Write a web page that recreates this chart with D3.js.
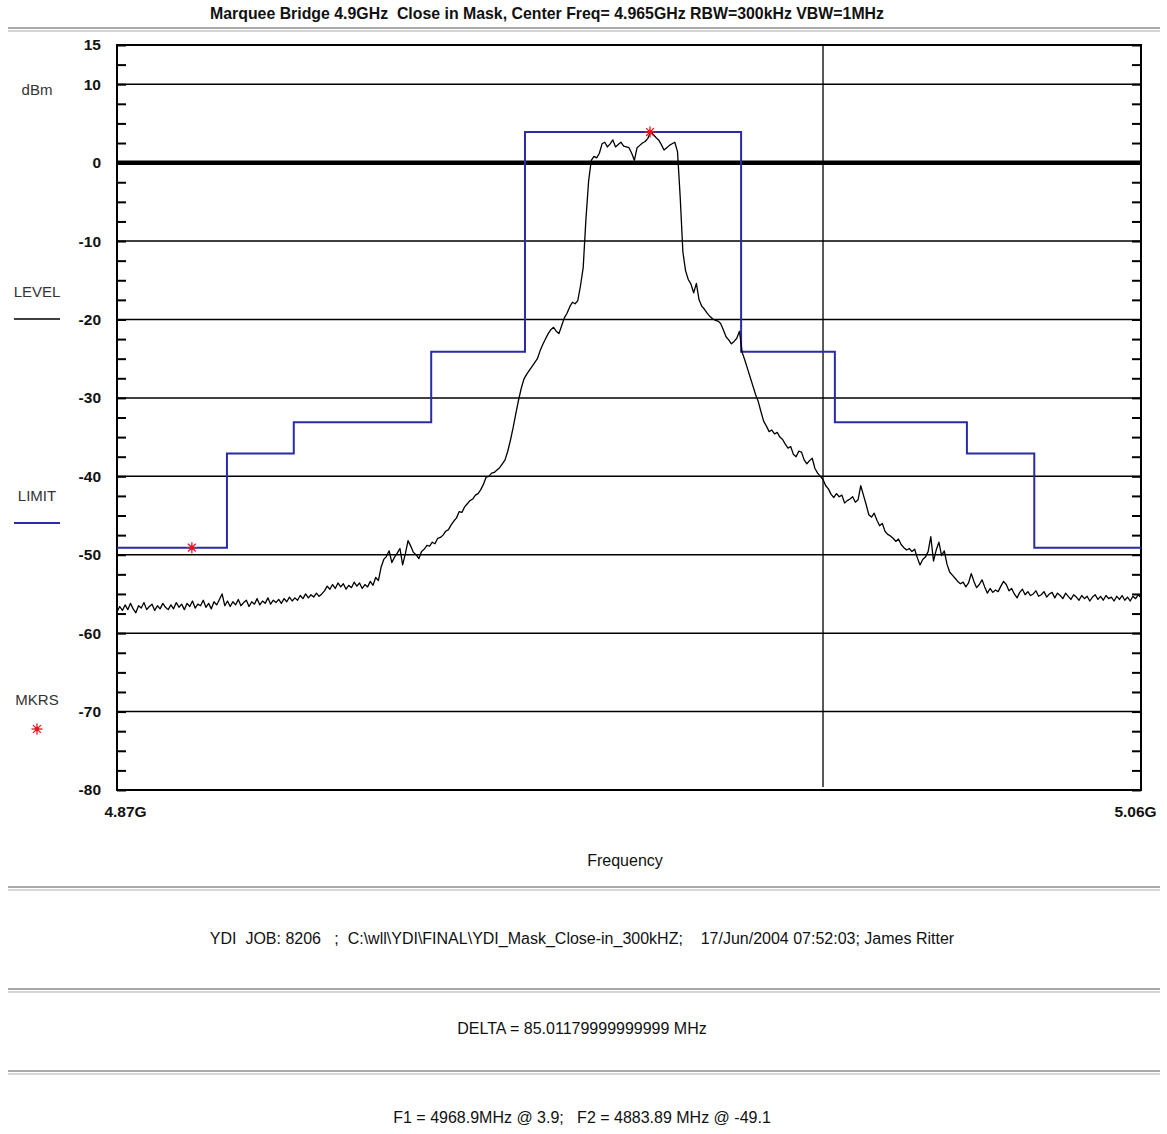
<!DOCTYPE html>
<html>
<head>
<meta charset="utf-8">
<script src="https://cdn.jsdelivr.net/npm/d3@7"></script>
<style>
  body { margin: 0; background: #fff; }
  svg text { font-family: "Liberation Sans", Arial, sans-serif; fill: #111; white-space: pre; }
  .bold { font-weight: bold; }
</style>
</head>
<body>
<div id="chart"></div>
<script>
// chart texts
const title = "Marquee Bridge 4.9GHz  Close in Mask, Center Freq= 4.965GHz RBW=300kHz VBW=1MHz";
const footerLines = [
  "YDI  JOB: 8206   ;  C:\\wll\\YDI\\FINAL\\YDI_Mask_Close-in_300kHZ;    17/Jun/2004 07:52:03; James Ritter",
  "DELTA = 85.01179999999999 MHz",
  "F1 = 4968.9MHz @ 3.9;   F2 = 4883.89 MHz @ -49.1"
];

// axes (MHz / dBm)
const freqRange = [4870, 5060];
const freqTickLabels = ["4.87G", "5.06G"];
const levelRange = [-80, 15];
const levelLabels = [15, 10, 0, -10, -20, -30, -40, -50, -60, -70, -80];
const gridLevels = [10, 0, -10, -20, -30, -40, -50, -60, -70];
const cursorFreq = 5001;

// limit mask: step edges (MHz) and the level of each step (dBm)
const maskEdges = [4870, 4890.4, 4902.8, 4928.3, 4945.7, 4985.8, 5003.2, 5027.7, 5040.2, 5060];
const maskLevels = [-49.1, -37.1, -33.1, -24.1, 3.9, -24.1, -33.1, -37.1, -49.1];

// measured trace, one value every 0.5 MHz starting at 4870 MHz
const traceStart = 4870, traceStep = 0.5;
const traceLevels = [
  -57.3,-56.6,-57.1,-56.4,-57.0,-56.2,-56.9,-57.4,-56.5,-56.8,-56.1,-57.0,-56.6,-56.3,-57.1,-56.5,-56.9,-56.2,-56.7,-57.0,
  -56.4,-56.9,-56.1,-56.7,-56.3,-57.0,-56.2,-56.6,-55.9,-56.8,-56.3,-56.5,-55.8,-56.7,-56.2,-56.9,-56.0,-56.4,-55.7,-55.0,
  -56.5,-55.9,-56.6,-56.0,-56.4,-55.7,-56.5,-56.1,-55.8,-56.6,-56.0,-56.3,-55.6,-56.4,-55.9,-56.2,-55.5,-56.3,-55.8,-56.1,
  -55.7,-56.2,-55.6,-56.0,-55.4,-55.9,-55.5,-55.8,-55.2,-55.6,-55.0,-55.5,-55.1,-55.4,-54.9,-55.3,-55.0,-54.6,-54.0,-54.4,
  -53.8,-54.3,-53.6,-54.1,-53.7,-54.4,-53.9,-54.2,-53.5,-54.0,-53.6,-54.3,-53.8,-54.1,-53.4,-53.9,-52.9,-53.3,-51.6,-50.6,
  -50.2,-49.5,-51.0,-50.3,-49.8,-49.2,-51.3,-49.9,-48.2,-48.9,-49.7,-50.0,-50.5,-49.6,-49.3,-48.8,-48.9,-48.4,-48.6,-47.9,
  -47.8,-47.5,-47.0,-46.8,-46.2,-45.7,-45.3,-44.5,-44.6,-43.9,-43.5,-43.1,-42.9,-42.4,-42.2,-41.7,-41.0,-40.1,-40.0,-39.6,
  -39.5,-39.2,-38.9,-38.4,-37.9,-36.8,-35.4,-33.8,-32.0,-30.3,-28.8,-27.6,-27.0,-26.5,-26.0,-25.5,-25.0,-24.0,-23.2,-22.5,
  -21.8,-21.3,-21.0,-21.5,-21.8,-20.8,-19.8,-19.2,-18.4,-17.8,-18.0,-17.6,-15.7,-13.4,-7.3,-2.4,0.3,0.8,0.6,1.2,
  2.4,2.6,2.0,2.4,2.9,2.0,2.3,2.6,2.1,2.0,1.9,1.2,0.3,1.9,2.2,2.5,2.7,3.1,3.9,3.6,
  3.2,2.9,2.3,1.6,1.9,2.2,2.4,2.6,1.4,-4.4,-11.4,-13.8,-14.9,-15.5,-16.6,-15.4,-17.5,-18.3,-18.7,-19.2,
  -19.6,-19.9,-20.1,-20.2,-20.5,-21.3,-22.2,-22.6,-23.1,-22.8,-22.4,-21.5,-24.2,-25.2,-26.3,-27.4,-28.5,-29.6,-30.5,-31.8,
  -33.0,-33.6,-34.3,-34.1,-34.6,-34.4,-35.0,-35.3,-35.9,-36.4,-36.2,-37.2,-37.5,-36.8,-36.9,-37.9,-38.4,-38.0,-37.7,-39.0,
  -39.6,-40.0,-40.4,-41.2,-41.6,-42.3,-42.7,-42.2,-42.6,-42.4,-43.4,-43.1,-42.9,-42.6,-43.3,-43.0,-41.2,-42.4,-43.6,-44.9,
  -45.2,-44.7,-45.6,-46.3,-46.0,-47.0,-47.4,-47.6,-47.9,-48.3,-48.0,-48.7,-49.1,-49.4,-49.2,-49.6,-49.3,-50.4,-51.3,-50.6,
  -50.3,-49.6,-47.7,-50.8,-49.4,-48.4,-50.1,-49.5,-51.2,-52.2,-52.6,-53.0,-53.4,-53.7,-53.5,-54.1,-53.6,-52.4,-53.4,-54.2,
  -53.8,-53.2,-54.1,-54.9,-54.3,-54.8,-54.5,-54.7,-54.0,-53.4,-53.8,-54.6,-54.3,-55.0,-55.5,-54.8,-54.4,-55.1,-54.7,-55.2,
  -55.0,-54.6,-55.3,-55.1,-54.7,-55.4,-55.0,-54.8,-55.5,-54.9,-55.2,-55.6,-54.9,-55.3,-55.7,-55.1,-55.4,-55.8,-55.2,-55.6,
  -55.3,-55.9,-55.4,-55.1,-55.7,-55.3,-55.8,-55.2,-55.6,-55.4,-55.9,-55.3,-55.7,-55.2,-55.8,-55.4,-55.9,-55.3,-55.6,-55.1,-55.5
];

// markers F1, F2
const markerFreqs = [4968.9, 4883.89];
const markerLevels = [3.9, -49.1];

const W = 1167, H = 1134;
const plot = {left: 117, right: 1141, top: 45, bottom: 790};

const svg = d3.select("#chart").append("svg")
  .attr("width", W)
  .attr("height", H);

const x = d3.scaleLinear().domain(freqRange).range([plot.left, plot.right]);
const y = d3.scaleLinear().domain(levelRange).range([plot.bottom, plot.top]);

const limitColor = "#2b2ba6";
const markColor = "#e8141c";

// title + double rule under it
svg.append("text").attr("class", "bold")
  .attr("x", 547).attr("y", 19)
  .attr("text-anchor", "middle")
  .attr("textLength", 674)
  .attr("lengthAdjust", "spacingAndGlyphs")
  .style("font-size", "16.5px")
  .text(title);

function rule(yy) {
  svg.append("rect").attr("x", 8).attr("y", yy).attr("width", 1152).attr("height", 2).attr("fill", "#a9a9a9");
  svg.append("rect").attr("x", 8).attr("y", yy + 3).attr("width", 1152).attr("height", 2).attr("fill", "#d6d6d6");
}
rule(27);

// horizontal grid
svg.append("g")
  .selectAll("line")
  .data(gridLevels)
  .join("line")
    .attr("x1", plot.left).attr("x2", plot.right)
    .attr("y1", d => y(d)).attr("y2", d => y(d))
    .attr("stroke", "#000")
    .attr("stroke-width", d => d === 0 ? 4.5 : 1.5);

// small ticks every 2.5 dB on both sides
const minor = d3.range(levelRange[0], levelRange[1] + 0.1, 2.5);
svg.append("g")
  .attr("transform", `translate(${plot.left},0)`)
  .call(d3.axisRight(y).tickValues(minor).tickSize(9).tickFormat(""))
  .call(g => g.select(".domain").remove())
  .selectAll("line").attr("stroke-width", 2);
svg.append("g")
  .attr("transform", `translate(${plot.right},0)`)
  .call(d3.axisLeft(y).tickValues(minor).tickSize(9).tickFormat(""))
  .call(g => g.select(".domain").remove())
  .selectAll("line").attr("stroke-width", 2);

// level labels (plain hyphen for negatives)
svg.append("g")
  .attr("transform", `translate(${plot.left},0)`)
  .call(d3.axisLeft(y).tickValues(levelLabels).tickSize(0).tickPadding(16).tickFormat(d => String(d)))
  .call(g => g.select(".domain").remove())
  .selectAll("text")
    .attr("class", "bold")
    .style("font-size", "15.5px")
    .style("font-family", null);

// frame
svg.append("rect")
  .attr("x", plot.left).attr("y", plot.top)
  .attr("width", plot.right - plot.left).attr("height", plot.bottom - plot.top)
  .attr("fill", "none").attr("stroke", "#000").attr("stroke-width", 2);

// frequency labels
svg.append("g")
  .attr("transform", `translate(0,${plot.bottom})`)
  .call(d3.axisBottom(x).tickValues(freqRange).tickSize(0).tickPadding(16)
    .tickFormat((d, i) => freqTickLabels[i]))
  .call(g => g.select(".domain").remove())
  .selectAll("text")
    .attr("class", "bold")
    .attr("dx", (d, i) => i === 0 ? 8 : -6)
    .style("font-size", "15.5px")
    .style("font-family", null);

svg.append("text")
  .attr("x", 625).attr("y", 866)
  .attr("text-anchor", "middle")
  .style("font-size", "16px")
  .text("Frequency");

// cursor line
svg.append("line")
  .attr("x1", x(cursorFreq)).attr("x2", x(cursorFreq))
  .attr("y1", plot.top).attr("y2", plot.bottom - 3)
  .attr("stroke", "#000").attr("stroke-width", 1.3);

// limit mask
const maskPts = [];
maskLevels.forEach((v, i) => {
  maskPts.push([maskEdges[i], v]);
  maskPts.push([maskEdges[i + 1], v]);
});
svg.append("path")
  .datum(maskPts)
  .attr("d", d3.line().x(d => x(d[0])).y(d => y(d[1])))
  .attr("fill", "none")
  .attr("stroke", limitColor)
  .attr("stroke-width", 2);

// measured level trace
svg.append("path")
  .datum(traceLevels)
  .attr("d", d3.line().x((d, i) => x(traceStart + i * traceStep)).y(d => y(d)))
  .attr("fill", "none")
  .attr("stroke", "#000")
  .attr("stroke-width", 1.3)
  .attr("stroke-linejoin", "round");

// asterisk marker
function star(g, cx, cy, r) {
  const s = g.append("g").attr("transform", `translate(${cx},${cy})`);
  [0, 45, 90, 135].forEach(a => {
    const t = a * Math.PI / 180;
    s.append("line")
      .attr("x1", -r * Math.cos(t)).attr("y1", -r * Math.sin(t))
      .attr("x2", r * Math.cos(t)).attr("y2", r * Math.sin(t))
      .attr("stroke", markColor).attr("stroke-width", 1.3);
  });
  s.append("circle").attr("r", 2.2).attr("fill", markColor);
}
markerFreqs.forEach((f, i) => star(svg, x(f), y(markerLevels[i]), 5.5));

// legend column on the left
const legend = svg.append("g");
[["dBm", 95], ["LEVEL", 297], ["LIMIT", 501], ["MKRS", 705]].forEach(([t, yy]) => {
  legend.append("text").attr("x", 37).attr("y", yy)
    .attr("text-anchor", "middle").style("font-size", "15px").style("fill", "#333")
    .text(t);
});
legend.append("line").attr("x1", 14).attr("x2", 60).attr("y1", 319).attr("y2", 319)
  .attr("stroke", "#000").attr("stroke-width", 1.5);
legend.append("line").attr("x1", 14).attr("x2", 60).attr("y1", 523).attr("y2", 523)
  .attr("stroke", limitColor).attr("stroke-width", 2);
star(legend, 37, 729, 5.5);

// footer blocks
rule(886);
rule(988);
rule(1070);
[944, 1034, 1123].forEach((yy, i) => {
  svg.append("text")
    .attr("x", 582).attr("y", yy)
    .attr("text-anchor", "middle")
    .style("font-size", "16px")
    .text(footerLines[i]);
});
</script>
</body>
</html>
